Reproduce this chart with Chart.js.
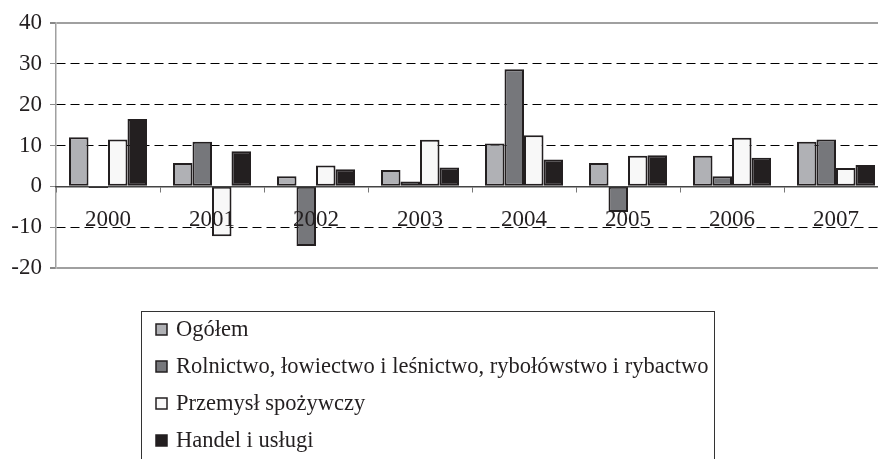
<!DOCTYPE html>
<html>
<head>
<meta charset="utf-8">
<script src="https://cdn.jsdelivr.net/npm/chart.js@4"></script>
<style>
  html, body { margin: 0; padding: 0; background: #fff; overflow: hidden; }
  #wrap { width: 890px; height: 459px; }
</style>
</head>
<body>
<div id="wrap"><canvas id="chart" width="890" height="459"></canvas></div>
<script>
const years = ['2000', '2001', '2002', '2003', '2004', '2005', '2006', '2007'];
const seriesNames = [
    'Ogółem',
    'Rolnictwo, łowiectwo i leśnictwo, rybołówstwo i rybactwo',
    'Przemysł spożywczy',
    'Handel i usługi'
];
const ogolem    = [12.0, 5.7, 2.5, 4.0, 10.5, 5.7, 7.5, 10.9];
const rolnictwo = [-0.4, 10.9, -14.6, 1.2, 28.7, -6.3, 2.5, 11.5];
const przemysl  = [11.5, -12.2, 5.1, 11.4, 12.5, 7.5, 11.9, 4.5];
const handel    = [16.5, 8.6, 4.2, 4.6, 6.6, 7.6, 7.0, 5.2];
const yMin = -20, yMax = 40, yStep = 10;

const ink = '#231f20';
const fills = ['#b0b1b5', '#76777b', '#f8f8f8', '#231f20'];
const font = '"Liberation Serif", "Times New Roman", serif';

// legend drawn as a framed list, one entry per row
const boxLegend = {
    id: 'boxLegend',
    afterDraw(chart) {
        const ctx = chart.ctx;
        ctx.save();
        ctx.strokeStyle = '#333';
        ctx.lineWidth = 1;
        ctx.strokeRect(141.5, 311.5, 573, 170);
        ctx.font = '22.5px ' + font;
        ctx.textBaseline = 'middle';
        chart.data.datasets.forEach((ds, i) => {
            const y = 329 + i * 37;
            ctx.fillStyle = ds.backgroundColor;
            ctx.fillRect(156, y - 5, 11, 11);
            ctx.strokeStyle = ink;
            ctx.lineWidth = 1.5;
            ctx.strokeRect(156, y - 5, 11, 11);
            ctx.fillStyle = ink;
            ctx.fillText(ds.label, 176, y + 1);
        });
        ctx.restore();
    }
};

const values = [ogolem, rolnictwo, przemysl, handel];

new Chart(document.getElementById('chart').getContext('2d'), {
    type: 'bar',
    data: {
        labels: years,
        datasets: values.map((v, i) => ({
            label: seriesNames[i],
            data: v,
            backgroundColor: fills[i],
            borderColor: ink,
            borderWidth: 2,
            borderSkipped: false,
            categoryPercentage: 0.75,
            barPercentage: 1.0
        }))
    },
    options: {
        responsive: false,
        animation: false,
        layout: { padding: { top: 23, right: 2, bottom: 191, left: 0 } },
        plugins: {
            legend: { display: false },
            tooltip: { enabled: false }
        },
        scales: {
            x: {
                position: { y: 0 },
                grid: {
                    offset: true,
                    drawOnChartArea: false,
                    drawTicks: true,
                    tickLength: 5,
                    color: '#777',
                    z: 1
                },
                // zero line and year labels are drawn on top of the bars
                border: { display: true, color: '#444', width: 1.5, z: 1 },
                ticks: {
                    z: 1,
                    color: ink,
                    padding: 15,
                    font: { family: font, size: 23 }
                }
            },
            y: {
                min: yMin,
                max: yMax,
                afterFit: (scale) => { scale.width = 56; },
                ticks: {
                    stepSize: yStep,
                    color: ink,
                    padding: 8,
                    font: { family: font, size: 23 }
                },
                grid: {
                    tickLength: 6,
                    tickColor: '#888',
                    color: (c) => {
                        const v = c.tick ? c.tick.value : null;
                        if (v === yMax || v === yMin) return '#a0a0a0';
                        if (v === 0) return 'rgba(0,0,0,0)';
                        return '#000';
                    },
                    lineWidth: (c) => {
                        const v = c.tick ? c.tick.value : null;
                        return (v === yMax || v === yMin) ? 2 : 1;
                    }
                },
                border: {
                    display: true,
                    color: '#a0a0a0',
                    width: 1.5,
                    dash: (c) => {
                        const v = c.tick ? c.tick.value : null;
                        if (v === null || v === yMax || v === yMin || v === 0) return [];
                        return [9, 5];
                    }
                }
            }
        }
    },
    plugins: [boxLegend]
});
</script>
</body>
</html>
